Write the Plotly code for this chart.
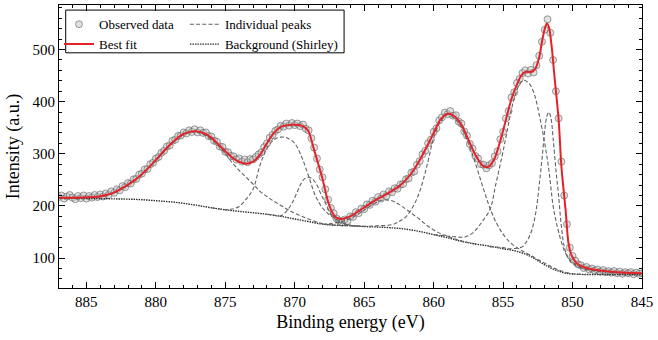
import plotly.graph_objects as go

# ---------------- data ----------------
# Observed data: measurement grid from 887.0 eV down to 845.0 eV, 0.2 eV step
obs_start = 887.0
obs_step = 0.2
obs_y = [
    217, 220, 214, 218, 221, 216, 213, 219, 215, 220,
    214, 219, 216, 221, 217, 222, 218, 224, 221, 228,
    225, 232, 230, 238, 236, 244, 243, 251, 252, 260,
    262, 270, 271, 280, 283, 291, 294, 302, 306, 314,
    316, 325, 327, 334, 335, 341, 339, 345, 342, 347,
    341, 345, 340, 341, 334, 333, 325, 323, 314, 313,
    304, 303, 296, 295, 289, 291, 285, 289, 284, 290,
    289, 294, 299, 303, 313, 320, 331, 336, 344, 347,
    354, 352, 358, 354, 359, 355, 358, 353, 356, 348,
    345, 330, 312, 291, 270, 255, 232, 212, 196, 186,
    176, 172, 168, 174, 171, 180, 179, 188, 186, 195,
    194, 203, 202, 210, 208, 217, 214, 222, 219, 228,
    226, 234, 233, 241, 242, 251, 253, 264, 266, 279,
    286, 299, 306, 320, 327, 342, 349, 364, 370, 379,
    376, 382, 373, 374, 362, 358, 343, 335, 319, 310,
    296, 291, 280, 279, 272, 278, 282, 295, 305, 328,
    342, 368, 382, 408, 418, 436, 444, 455, 460, 454,
    461, 456, 470, 488, 515, 538, 558, 532, 480, 420,
    368, 285, 220, 165, 120, 104, 95, 88, 86, 81,
    83, 78, 80, 76, 78, 74, 77, 73, 75, 72,
    75, 71, 74, 70, 73, 71, 73, 69, 72, 70,
    71,
]
obs_x = [round(obs_start - obs_step * i, 1) for i in range(len(obs_y))]

# Best fit
fit_x = [887.0, 886.5, 886.0, 885.5, 885.0, 884.5, 884.0, 883.5, 883.0, 882.5,
         882.0, 881.5, 881.0, 880.5, 880.0, 879.5, 879.0, 878.5, 878.0, 877.5,
         877.0, 876.5, 876.0, 875.5, 875.0, 874.5, 874.0, 873.5, 873.0, 872.5,
         872.0, 871.5, 871.0, 870.5, 870.0, 869.5, 869.2, 869.0, 868.6, 868.3,
         868.0, 867.6, 867.2, 866.9, 866.6, 866.2, 865.8, 865.4, 865.0, 864.5,
         864.0, 863.5, 863.0, 862.5, 862.0, 861.5, 861.0, 860.5, 860.0, 859.5,
         859.0, 858.5, 858.0, 857.5, 857.0, 856.5, 856.2, 856.0, 855.6, 855.2,
         854.8, 854.4, 854.0, 853.7, 853.4, 853.0, 852.7, 852.4, 852.2, 852.0,
         851.85, 851.7, 851.5, 851.3, 851.0, 850.8, 850.5, 850.3, 850.1, 849.9,
         849.7, 849.4, 849.0, 848.5, 848.0, 847.0, 846.0, 845.0]
fit_y = [215.5, 215.5, 215.8, 216, 216.5, 217, 218.5, 221.5, 226, 233,
         241, 250, 261, 274, 288, 303, 317, 329, 338, 342.5,
         343, 339, 331, 318, 305, 293, 284.5, 281, 285, 298,
         320, 340, 351.5, 355, 355.5, 354, 349, 343, 307, 280,
         252, 208, 183, 176, 175, 178, 183, 190, 197, 206,
         214, 221, 229, 237.5, 250, 266, 288, 313, 340, 366,
         377, 372, 356, 327, 298, 278, 274, 276, 292, 325,
         365, 405, 433, 450, 457, 457, 462, 485, 515, 540,
         550, 543, 505, 448, 365, 275, 192, 130, 107, 97,
         90, 85, 81, 78, 76, 73.5, 72, 71]

# Shirley background
bg_x = [887, 886, 885, 884, 883, 882, 881, 880, 879, 878, 877, 876, 875, 874,
        873, 872, 871, 870, 869, 868, 867, 866, 865, 864, 863, 862, 861, 860,
        859, 858, 857, 856, 855, 854, 853, 852.5, 852, 851.5, 851, 850.5, 850,
        849, 848, 847, 846, 845]
bg_y = [214.5, 214.5, 214, 214, 213.5, 213, 212, 210, 208, 205, 201, 196.5, 192.5, 189.5,
        187, 184, 180, 175, 170, 165, 163, 162, 160.5, 159.5, 158, 155.5, 151, 145,
        139, 132, 127, 123, 118, 113, 103, 95, 87, 80, 75, 71, 69.5,
        68.5, 68.5, 68.5, 68.5, 68.5]

# Individual peaks (drawn on top of the background)
p1_x = [887, 886, 885, 884, 883, 882, 881, 880, 879, 878, 877.5, 877, 876.5, 876,
        875.5, 875, 874.5, 874, 873.5, 873, 872.5, 872, 871.5, 871, 870.5, 870,
        869.5, 869, 868.5, 868, 867.5, 867, 866]
p1_y = [215, 215.5, 216.3, 218, 225, 240, 260, 287, 316, 337, 341.5, 342, 337, 328,
        315, 300, 283, 268, 255, 242, 228, 218, 209, 201, 193, 186,
        180, 175, 170, 166, 164, 163, 162]

p2_x = [876, 875, 874.5, 874, 873.5, 873, 872.5, 872, 871.5, 871, 870.5, 870,
        869.5, 869, 868.5, 868, 867.5, 867, 866.5, 866, 865]
p2_y = [196.5, 193, 194, 199, 213, 232, 278, 310, 327, 332, 330, 320,
        294, 257, 219, 196, 183, 174, 167, 163, 160.5]

p3_x = [872, 871.5, 871, 870.5, 870.2, 869.9, 869.6, 869.3, 869.0, 868.7, 868.4,
        868.1, 867.8, 867.5, 867.2, 866.9, 866.5, 866, 865]
p3_y = [184, 182, 181, 193, 205, 222, 240, 252, 255, 251, 240,
        222, 206, 189, 178, 170, 166, 163, 160.5]

p4_x = [868, 867.5, 867, 866.5, 866, 865.5, 865, 864.5, 864, 863.6, 863, 862.5,
        862, 861.5, 861, 860.5, 860, 859.5, 859, 858.5, 858, 857]
p4_y = [165, 165.5, 168, 171, 176, 183, 192, 201, 208, 211.5, 210, 203,
        194, 184, 174, 163, 154, 147, 142, 137, 133, 127]

p5_x = [866, 865, 864, 863, 862.5, 862, 861.5, 861, 860.5, 860, 859.5, 859.0,
        858.5, 858, 857.5, 857, 856.5, 856, 855.5, 855, 854.5, 854, 853.5, 853,
        852, 851, 850, 849]
p5_y = [162, 161, 162, 164, 170, 179, 198, 228, 275, 330, 362, 375,
        368, 350, 320, 282, 240, 200, 168, 146, 130, 120, 112, 105,
        90, 77, 70, 68.5]

p6_x = [860, 859, 858.5, 858, 857.7, 857.3, 857, 856.5, 856, 855.8, 855.6, 855.3,
        855, 854.7, 854.4, 854.1, 853.8, 853.5, 853.2, 853, 852.7, 852.4, 852,
        851.7, 851.4, 851.2, 851, 850.6, 850.2, 849.8, 849.4, 849, 848.5, 848,
        847, 846, 845]
p6_y = [145, 142, 141, 140, 141, 146, 153, 170, 190, 205, 232, 268,
        305, 345, 385, 415, 434, 441, 437, 430, 410, 375, 320,
        268, 200, 172, 150, 115, 97, 88, 83, 80, 77, 75,
        73, 71.5, 70.5]

p7_x = [856, 855, 854.5, 854, 853.6, 853.3, 853, 852.8, 852.6, 852.4, 852.2, 852.0,
        851.85, 851.7, 851.55, 851.4, 851.2, 851.0, 850.8, 850.6, 850.4, 850.2,
        850, 849.6, 849, 848.5, 848, 847, 846, 845]
p7_y = [122, 120, 118, 119, 122, 132, 148, 167, 195, 240, 290, 345,
        372, 380, 368, 330, 270, 218, 160, 122, 105, 95,
        89, 83, 78, 76, 74.5, 72.5, 71, 70]

peaks = [(p1_x, p1_y), (p2_x, p2_y), (p3_x, p3_y), (p4_x, p4_y),
         (p5_x, p5_y), (p6_x, p6_y), (p7_x, p7_y)]

x_ticks = [885, 880, 875, 870, 865, 860, 855, 850, 845]
y_ticks = [100, 200, 300, 400, 500]

# ---------------- figure ----------------
FONT = "Liberation Serif, Times New Roman, DejaVu Serif, serif"
fig = go.Figure()

fig.add_trace(go.Scatter(
    x=obs_x, y=obs_y, mode="markers", name="Observed data",
    marker=dict(size=7, color="rgba(195,195,195,0.5)",
                line=dict(color="rgba(85,85,85,0.7)", width=0.8)),
    legend="legend", legendrank=1,
))

fig.add_trace(go.Scatter(
    x=bg_x, y=bg_y, mode="lines", name="Background (Shirley)",
    line=dict(color="#2e2e2e", width=1.4, dash="1.5px,1px", shape="spline"),
    legend="legend2", legendrank=2,
))

for i, (px_, py_) in enumerate(peaks):
    fig.add_trace(go.Scatter(
        x=px_, y=py_, mode="lines", name="Individual peaks",
        line=dict(color="#626262", width=1.1, dash="4px,2.2px", shape="spline"),
        showlegend=(i == 0), legend="legend2", legendrank=1,
    ))

fig.add_trace(go.Scatter(
    x=fit_x, y=fit_y, mode="lines", name="Best fit",
    line=dict(color="#e2242a", width=2, shape="spline", smoothing=0.8),
    legend="legend", legendrank=2,
))

axis_common = dict(
    showline=True, linecolor="black", linewidth=1, mirror="allticks",
    ticks="inside", ticklen=6, tickwidth=1, tickcolor="black",
    showgrid=False, zeroline=False,
    tickfont=dict(family=FONT, size=15, color="black"),
)

fig.update_xaxes(
    range=[886.97, 845], tickvals=x_ticks, ticktext=[str(v) for v in x_ticks],
    minor=dict(ticks="inside", ticklen=3, tickwidth=1, tickcolor="black", dtick=1,
               tick0=845, showgrid=False),
    title=dict(text="Binding energy (eV)", font=dict(family=FONT, size=18, color="black"),
               standoff=6),
    **axis_common,
)
fig.update_yaxes(
    range=[42.6, 585.4], tickvals=y_ticks, ticktext=[str(v) for v in y_ticks],
    minor=dict(ticks="inside", ticklen=3, tickwidth=1, tickcolor="black", dtick=20,
               tick0=0, showgrid=False),
    title=dict(text="Intensity (a.u.)", font=dict(family=FONT, size=18, color="black"),
               standoff=8),
    **axis_common,
)

legend_common = dict(
    xanchor="left", yanchor="top", y=0.985,
    bgcolor="rgba(0,0,0,0)", borderwidth=0,
    font=dict(family=FONT, size=13, color="black"),
    tracegroupgap=0, itemwidth=30, traceorder="normal",
)
fig.update_layout(
    width=658, height=340,
    margin=dict(l=59, r=16, t=5, b=52),
    paper_bgcolor="white", plot_bgcolor="white",
    showlegend=True,
    legend=dict(x=0.0, **legend_common),
    legend2=dict(x=0.216, **legend_common),
    shapes=[dict(type="rect", xref="paper", yref="paper",
                 x0=0.0115, x1=0.489, y0=0.831, y1=0.982,
                 line=dict(color="black", width=1), fillcolor="rgba(0,0,0,0)",
                 layer="above")],
)

fig.write_html("out.html")
